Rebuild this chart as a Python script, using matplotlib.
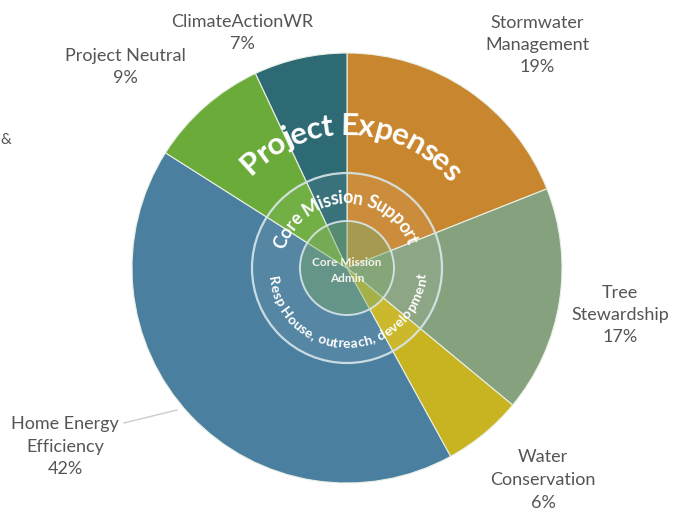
import numpy as np
import matplotlib
matplotlib.use("Agg")
import matplotlib.pyplot as plt
from matplotlib.patches import Circle
from matplotlib.font_manager import FontProperties

labels = ["Stormwater\nManagement", "Tree\nStewardship", "Water\nConservation",
          "Home Energy\nEfficiency", "Project Neutral", "ClimateActionWR"]
shares = [19, 17, 6, 42, 9, 7]
colors = ["#C8862F", "#86A17E", "#C8B420", "#4B7F9F", "#6AAB3A", "#2E6A73"]
# label centres in pixel coords (x, y from top)
label_pos = [(537, 45), (620, 315), (543, 480), (65, 447), (125, 67), (242, 33)]

W, H = 690, 512
cx, cy, R = 347, H - 268, 215

fig = plt.figure(figsize=(6.9, 5.12), dpi=100)
ax = fig.add_axes([0, 0, 1, 1])

ax.pie(shares, colors=colors, startangle=90, counterclock=False,
       center=(cx, cy), radius=R, frame=True,
       wedgeprops=dict(edgecolor="#e8efe4", linewidth=0.8))
ax.set_xlim(0, W)
ax.set_ylim(0, H)
ax.set_aspect("equal")
ax.axis("off")

# inner rings
ax.add_patch(Circle((cx, cy), 95, facecolor="white", alpha=0.06, edgecolor="none"))
ax.add_patch(Circle((cx, cy), 95, facecolor="none", edgecolor="#d8e6ea", lw=1.6, alpha=0.9))
ax.add_patch(Circle((cx, cy), 47, facecolor="#7aa86a", alpha=0.45, edgecolor="none"))
ax.add_patch(Circle((cx, cy), 47, facecolor="none", edgecolor="#d8e6ea", lw=1.4, alpha=0.9))

for lab, p, (lx, ly) in zip(labels, shares, label_pos):
    ax.text(lx, H - ly, f"{lab}\n{p}%", ha="center", va="center",
            fontsize=13, family="Lato", color="#555555", linespacing=1.5)

# leader line for Home Energy Efficiency
ax.plot([124, 177], [H - 423, H - 410], color="#cccccc", lw=1)

ax.text(0, H - 140, "&", fontsize=11, family="Lato", color="#555555",
        ha="left", va="center")

ax.text(cx, H - 262, "Core Mission", ha="center", va="center", fontsize=8.5,
        family="Lato", weight="bold", color="#f4f4ea")
ax.text(cx, H - 279, "Admin", ha="center", va="center", fontsize=8.5,
        family="Lato", weight="bold", color="#f4f4ea")

renderer = fig.canvas.get_renderer()


def curved(text, r, mid, size, weight, top=True):
    prop = FontProperties(family="Lato", size=size, weight=weight)

    def wid(s):
        w, h, d = renderer.get_text_width_height_descent(s, prop, ismath=False)
        return w
    total = wid(text)
    span = total / r
    start = np.radians(mid) + (span / 2 if top else -span / 2)
    for i, ch in enumerate(text):
        off = wid(text[:i]) + wid(ch) / 2 if i else wid(ch) / 2
        a = start - off / r if top else start + off / r
        x = cx + r * np.cos(a)
        y = cy + r * np.sin(a)
        rot = np.degrees(a) - 90 if top else np.degrees(a) + 90
        ax.text(x, y, ch, fontproperties=prop, color="white", rotation=rot,
                rotation_mode="anchor", ha="center", va="center")


curved("Project Expenses", 142, 88, 22.5, "bold", top=True)
curved("Core Mission Support", 70, 92, 13, "bold", top=True)
curved("Resp House, outreach, development", 76, 271, 10, "bold", top=False)

fig.savefig("out.png", dpi=100)
